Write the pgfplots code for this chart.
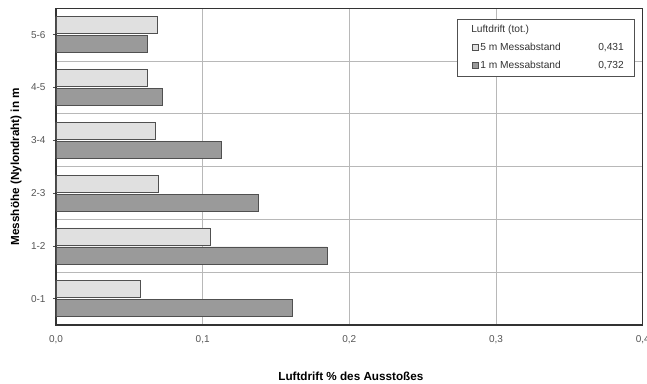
\documentclass[border=0pt]{standalone}
\usepackage{pgfplots}
\pgfplotsset{compat=1.18}
\usepackage{fontspec}
\setmainfont{Liberation Sans}
\definecolor{lightbar}{HTML}{E0E0E0}
\definecolor{darkbar}{HTML}{9A9A9A}
\definecolor{edgec}{HTML}{505050}
\definecolor{gridc}{HTML}{B8B8B8}
\definecolor{tickc}{HTML}{555555}
\begin{document}
\begin{tikzpicture}
\begin{axis}[
  scale only axis,
  width=586.7pt, height=316.7pt,
  xbar,
  xmin=0, xmax=0.4,
  ymin=-0.5, ymax=5.5,
  xtick={0,0.1,0.2,0.3,0.4},
  xticklabels={{0,0},{0,1},{0,2},{0,3},{0,4}},
  ytick={0,1,2,3,4,5},
  yticklabels={0-1,1-2,2-3,3-4,4-5,5-6},
  minor ytick={0.5,1.5,2.5,3.5,4.5},
  ytick pos=left,
  xmajorgrids=true,
  yminorgrids=true,
  major grid style={gridc, line width=0.8pt},
  minor grid style={gridc, line width=0.8pt},
  minor tick length=0pt,
  major tick length=3pt,
  xtick style={draw=none},
  ytick style={edgec, line width=0.6pt},
  tick align=outside,
  axis line style={black!80, line width=1.3pt},
  tick label style={font=\fontsize{10}{11}\selectfont, text=tickc},
  xticklabel style={yshift=-4pt},
  yticklabel style={xshift=-4pt},
  /pgf/number format/assume math mode=true,
  xlabel={\textbf{Luftdrift \% des Ausstoßes}},
  ylabel={\textbf{Messhöhe (Nylondraht) in m}},
  label style={font=\fontsize{11.7}{13}\selectfont},
  xlabel style={at={(0.5,0)}, anchor=center, yshift=-51pt, xshift=1.5pt},
  ylabel style={at={(0,0.5)}, anchor=center, yshift=40pt},
  legend style={at={(0.683,0.966)}, anchor=north west, draw=edgec, line width=0.6pt,
    font=\fontsize{10.2}{12}\selectfont, text=black!80, row sep=5pt, inner xsep=8pt, inner ysep=4pt},
  legend cell align=left,
  legend image code/.code={\draw[#1, line width=0.6pt] (7pt,-3pt) rectangle (13pt,3pt);},
  clip=false,
]
\addlegendimage{empty legend}
\addlegendentry{\hspace*{-9pt}Luftdrift (tot.)}
\addplot[draw=edgec, fill=lightbar, line width=0.6pt, bar width=17pt, bar shift=9.5pt]
  coordinates {(0.0577,0) (0.105,1) (0.070,2) (0.068,3) (0.0625,4) (0.0689,5)};
\addlegendentry{\makebox[118pt][l]{5 m Messabstand}0,431}
\addplot[draw=edgec, fill=darkbar, line width=0.6pt, bar width=17pt, bar shift=-9.5pt]
  coordinates {(0.161,0) (0.1847,1) (0.138,2) (0.113,3) (0.0727,4) (0.0625,5)};
\addlegendentry{\makebox[118pt][l]{1 m Messabstand}0,732}
\end{axis}
\pgfresetboundingbox
\path (current axis.south west) ++(-56pt,-59pt) coordinate (bbl);
\path (current axis.north east) ++(4.3pt,8.3pt) coordinate (bbr);
\useasboundingbox (bbl) rectangle (bbr);
\end{tikzpicture}
\end{document}
